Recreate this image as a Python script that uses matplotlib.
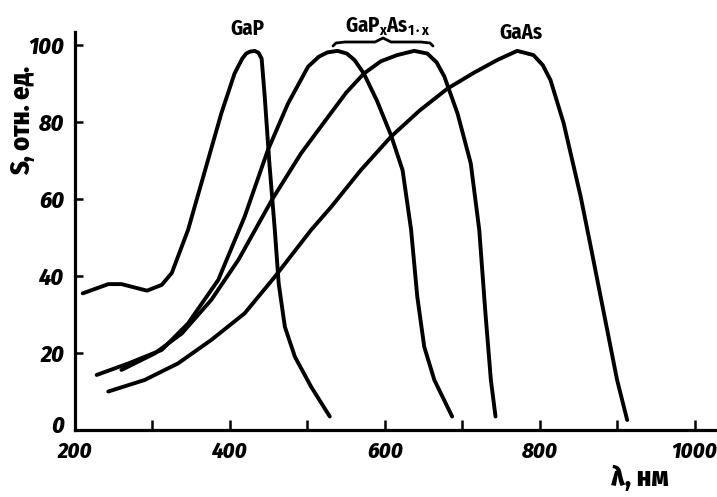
import matplotlib
matplotlib.use("Agg")
import matplotlib.pyplot as plt
import matplotlib.transforms as mtransforms
from matplotlib.lines import Line2D

# ---- data ----
gap_x = [210, 243, 260, 293, 312, 325, 346, 368, 389, 406, 416, 421, 426, 432, 437, 441, 445, 451, 458, 463, 471, 484, 505, 529]
gap_y = [35.5, 37.9, 37.9, 36.2, 37.7, 40.8, 52, 67.5, 82.3, 92.6, 96.5, 97.8, 98.3, 98.5, 98.0, 96.5, 86.6, 69.3, 52, 38.1, 26.8, 19, 11.2, 3.5]

gaasp1_x = [228, 269, 312, 346, 385, 419, 449, 475, 501, 515, 526, 539, 551, 561, 573, 590, 608, 623, 634, 642, 651, 664, 687]
gaasp1_y = [14.3, 17.3, 20.8, 27.7, 39, 55.4, 72.7, 84.8, 94.4, 97.0, 98.1, 98.5, 97.8, 96.1, 92.6, 85.5, 76.6, 67.5, 52, 34.6, 21.6, 13, 3.5]

gaasp2_x = [260, 303, 338, 376, 411, 454, 492, 527, 550, 573, 595, 616, 638, 655, 667, 677, 694, 711, 722, 730, 737, 743]
gaasp2_y = [15.6, 19.9, 25.1, 33.8, 44.2, 59.7, 71.9, 81.4, 87.6, 92.6, 95.8, 97.4, 98.5, 97.8, 95.5, 91.8, 82.2, 69.3, 52, 30.3, 13, 3.5]

gaas_x = [243, 290, 333, 376, 419, 458, 505, 531, 569, 608, 645, 681, 715, 745, 771, 792, 804, 814, 831, 853, 866, 883, 900, 913]
gaas_y = [10, 13, 17.3, 23.4, 30.3, 39.8, 52, 58, 67.5, 76.2, 83.0, 88.7, 92.8, 96.1, 98.5, 97.4, 94.8, 90.9, 79.7, 60.6, 47.6, 30.3, 13, 2.6]

x_ticks = [200, 300, 400, 500, 600, 700, 800, 900, 1000]
x_labels = ["200", "", "400", "", "600", "", "800", "", "1000"]
y_ticks = [0, 20, 40, 60, 80, 100]
y_labels = ["0", "20", "40", "60", "80", "100"]

FONT = ["Fira Sans Condensed", "DejaVu Sans"]
plt.rcParams["mathtext.fontset"] = "custom"
plt.rcParams["mathtext.rm"] = "Fira Sans Condensed:bold"
plt.rcParams["mathtext.it"] = "Fira Sans Condensed:bold"
plt.rcParams["mathtext.bf"] = "Fira Sans Condensed:bold"

W, H = 717, 497
fig = plt.figure(figsize=(W / 100, H / 100), dpi=100)
fig.patch.set_facecolor("white")

# axes in pixel coordinates
ax_l, ax_r, ax_t, ax_b = 75, 717, 32, 430
ax = fig.add_axes([ax_l / W, 1 - ax_b / H, (ax_r - ax_l) / W, (ax_b - ax_t) / H])
ax.set_xlim(202.5, 1029)
ax.set_ylim(0, 103.4)

lw = 2.8
for xs, ys in [(gap_x, gap_y), (gaasp1_x, gaasp1_y), (gaasp2_x, gaasp2_y), (gaas_x, gaas_y)]:
    ax.plot(xs, ys, color="black", lw=lw, solid_joinstyle="round", solid_capstyle="round")

for s in ["top", "right"]:
    ax.spines[s].set_visible(False)
for s in ["left", "bottom"]:
    ax.spines[s].set_linewidth(2.3)

ax.set_xticks(x_ticks)
ax.set_xticklabels(x_labels)
ax.tick_params(axis="x", direction="in", length=7, width=1.8, pad=8)
ax.set_yticks(y_ticks)
ax.set_yticklabels(y_labels)
ax.tick_params(axis="y", direction="in", length=6, width=1.8, pad=8)

for lab in ax.get_xticklabels():
    lab.set_fontfamily(FONT)
    lab.set_fontweight(800)
    lab.set_fontstyle("italic")
    lab.set_fontsize(16)
for lab in ax.get_yticklabels():
    lab.set_fontfamily(FONT)
    lab.set_fontweight(800)
    lab.set_fontstyle("italic")
    lab.set_fontsize(17)

# the "0" label sits slightly above the axis line in the reference
zero_lab = ax.get_yticklabels()[0]
zero_lab.set_transform(zero_lab.get_transform() +
                       mtransforms.ScaledTranslation(0, 4 / 72, fig.dpi_scale_trans))

def fx(px):
    return px / W

def fy(py):
    return 1 - py / H

# curve labels
fig.text(fx(247), fy(29), "GaP", family=FONT, fontweight="bold", fontsize=15, ha="center", va="center")
fig.text(fx(388), fy(27), "GaP$_{\\mathrm{x}}$As$_{\\mathrm{1\\cdot x}}$", family=FONT, fontweight="bold",
         fontsize=15, ha="center", va="center")
fig.text(fx(521), fy(33), "GaAs", family=FONT, fontweight="bold", fontsize=15, ha="center", va="center")

# brace under the GaPxAs1-x label
bx = [333, 336, 345, 375, 383, 391, 421, 430, 433]
by = [46, 43, 42, 42, 38, 42, 42, 43, 46]
fig.add_artist(Line2D([fx(v) for v in bx], [fy(v) for v in by], transform=fig.transFigure,
                      color="black", lw=2.0, solid_joinstyle="round", solid_capstyle="round"))

# axis titles
fig.text(fx(22), fy(120), "S, отн. ед.", family=FONT, fontweight=800, fontsize=19,
         rotation=90, ha="center", va="center")
fig.text(fx(640), fy(478), "λ, нм", family=FONT, fontweight=800, fontsize=20,
         ha="center", va="center")

fig.savefig("out.png", dpi=100, facecolor="white")
